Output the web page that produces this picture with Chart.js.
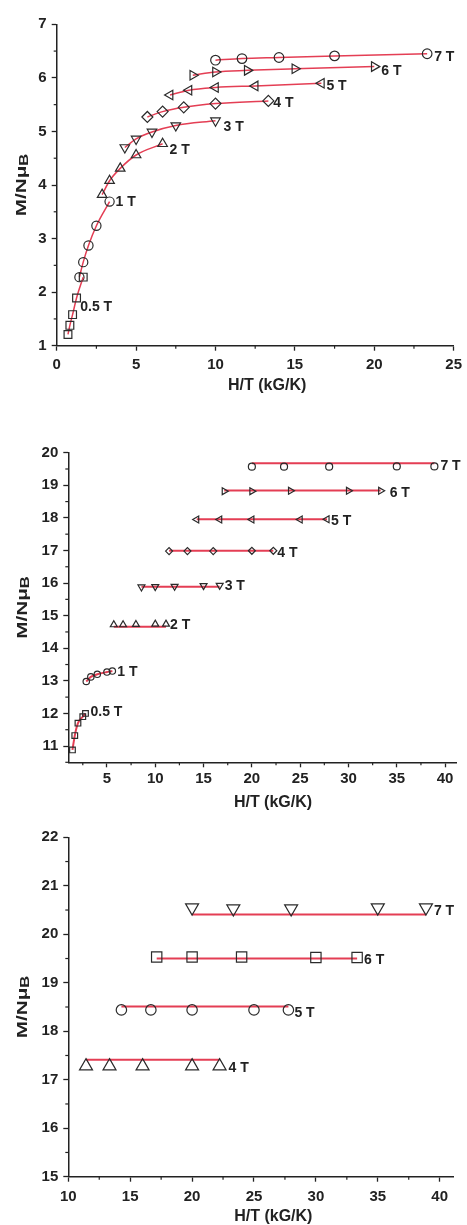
<!DOCTYPE html>
<html><head><meta charset="utf-8">
<script src="https://cdn.jsdelivr.net/npm/chart.js@4.4.0/dist/chart.umd.min.js"></script>
<style>
html,body{margin:0;padding:0;background:#fff;}
#wrap{position:relative;width:467px;height:1225px;overflow:hidden;}
canvas{position:absolute;left:0;}
</style></head><body>
<div id="wrap">
<canvas id="c1" width="467" height="400" style="top:0px"></canvas>
<canvas id="c2" width="467" height="420" style="top:400px"></canvas>
<canvas id="c3" width="467" height="405" style="top:820px"></canvas>
</div>
<script>
// ---------- DATA ----------
const fieldLabels = ['0.5 T', '1 T', '2 T', '3 T', '4 T', '5 T', '6 T', '7 T'];
const xTitle = 'H/T (kG/K)';
const yTitleMain = 'M/N\u03bc';
const yTitleSub = 'B';

// Top panel ticks
const topXTicks = [0, 5, 10, 15, 20, 25];
const topYTicks = [1, 2, 3, 4, 5, 6, 7];
// Top panel series (H/T, M/NμB)
const top_x_05 = [0.71, 0.83, 1.00, 1.25, 1.67];
const top_y_05 = [1.21, 1.38, 1.58, 1.89, 2.28];
const top_x_1 = [1.43, 1.67, 2.00, 2.50, 3.33];
const top_y_1 = [2.28, 2.56, 2.87, 3.24, 3.69];
const top_x_2 = [2.86, 3.33, 4.00, 5.00, 6.67];
const top_y_2 = [3.82, 4.08, 4.31, 4.56, 4.77];
const top_x_3 = [4.29, 5.00, 6.00, 7.50, 10.00];
const top_y_3 = [4.70, 4.86, 4.99, 5.11, 5.20];
const top_x_4 = [5.71, 6.67, 8.00, 10.00, 13.33];
const top_y_4 = [5.27, 5.37, 5.45, 5.52, 5.57];
const top_x_5 = [7.14, 8.33, 10.00, 12.50, 16.67];
const top_y_5 = [5.68, 5.77, 5.82, 5.85, 5.90];
const top_x_6 = [8.57, 10.00, 12.00, 15.00, 20.00];
const top_y_6 = [6.05, 6.11, 6.14, 6.17, 6.21];
const top_x_7 = [10.00, 11.67, 14.00, 17.50, 23.33];
const top_y_7 = [6.33, 6.36, 6.38, 6.41, 6.45];

// Middle panel ticks
const midXTicks = [5, 10, 15, 20, 25, 30, 35, 40];
const midYTicks = [11, 12, 13, 14, 15, 16, 17, 18, 19, 20];
// Middle panel series
const mid_x_05 = [1.43, 1.67, 2.00, 2.50, 2.78];
const mid_y_05 = [10.88, 11.32, 11.70, 11.90, 12.00];
const mid_fit_05 = [10.88, 11.32, 11.70, 11.90, 12.00];
const mid_x_1 = [2.86, 3.33, 4.00, 5.00, 5.56];
const mid_y_1 = [12.98, 13.12, 13.20, 13.27, 13.30];
const mid_fit_1 = [12.98, 13.12, 13.20, 13.27, 13.30];
const mid_x_2 = [5.71, 6.67, 8.00, 10.00, 11.11];
const mid_y_2 = [14.72, 14.72, 14.73, 14.74, 14.74];
const mid_fit_2 = [14.66, 14.66, 14.66, 14.66, 14.66];
const mid_x_3 = [8.57, 10.00, 12.00, 15.00, 16.67];
const mid_y_3 = [15.88, 15.89, 15.90, 15.92, 15.93];
const mid_fit_3 = [15.89, 15.89, 15.89, 15.89, 15.89];
const mid_x_4 = [11.43, 13.33, 16.00, 20.00, 22.22];
const mid_y_4 = [16.98, 16.98, 16.98, 16.99, 16.99];
const mid_fit_4 = [16.99, 16.99, 16.99, 16.99, 16.99];
const mid_x_5 = [14.29, 16.67, 20.00, 25.00, 27.78];
const mid_y_5 = [17.95, 17.95, 17.95, 17.95, 17.96];
const mid_fit_5 = [17.96, 17.96, 17.96, 17.96, 17.96];
const mid_x_6 = [17.14, 20.00, 24.00, 30.00, 33.33];
const mid_y_6 = [18.82, 18.82, 18.83, 18.83, 18.83];
const mid_fit_6 = [18.84, 18.84, 18.84, 18.84, 18.84];
const mid_x_7 = [20.00, 23.33, 28.00, 35.00, 38.89];
const mid_y_7 = [19.57, 19.57, 19.57, 19.58, 19.58];
const mid_fit_7 = [19.68, 19.68, 19.68, 19.68, 19.68];

// Bottom panel ticks
const botXTicks = [10, 15, 20, 25, 30, 35, 40];
const botYTicks = [15, 16, 17, 18, 19, 20, 21, 22];
// Bottom panel series
const bot_x_4 = [11.43, 13.33, 16.00, 20.00, 22.22];
const bot_y_4 = [17.28, 17.28, 17.28, 17.28, 17.28];
const bot_fit_4 = [17.41, 17.41, 17.41, 17.41, 17.41];
const bot_x_5 = [14.29, 16.67, 20.00, 25.00, 27.78];
const bot_y_5 = [18.44, 18.44, 18.44, 18.44, 18.44];
const bot_fit_5 = [18.51, 18.51, 18.51, 18.51, 18.51];
const bot_x_6 = [17.14, 20.00, 24.00, 30.00, 33.33];
const bot_y_6 = [19.53, 19.53, 19.53, 19.52, 19.52];
const bot_fit_6 = [19.50, 19.50, 19.50, 19.50, 19.50];
const bot_x_7 = [20.00, 23.33, 28.00, 35.00, 38.89];
const bot_y_7 = [20.55, 20.53, 20.53, 20.55, 20.55];
const bot_fit_7 = [20.41, 20.41, 20.41, 20.41, 20.41];

// ---------- STYLE / HELPERS ----------
const FONT = '"Liberation Sans", Arial, Helvetica, sans-serif';
const RED = 'rgb(228,62,84)';
const INK = '#222';
const MK = '#2b2b2b';

const pts = (xs, ys) => xs.map((x, i) => ({ x: x, y: ys[i] }));
const last = a => a[a.length - 1];

function markers(xs, ys, style, rot, r, withLine, lw) {
  return {
    data: pts(xs, ys), showLine: !!withLine, borderColor: RED, borderWidth: lw || 1.5,
    cubicInterpolationMode: 'monotone', fill: false,
    pointStyle: style, pointRotation: rot || 0, pointRadius: r, pointHoverRadius: r,
    pointBorderColor: MK, pointBackgroundColor: 'rgba(255,255,255,0)', pointBorderWidth: 1.2
  };
}
function fitLine(xs, ys, lw) {
  return {
    data: pts(xs, ys), showLine: true, borderColor: RED, borderWidth: lw,
    cubicInterpolationMode: 'monotone', fill: false, pointRadius: 0, pointHoverRadius: 0
  };
}

function scales(xmin, xmax, xt, ymin, ymax, yt, leftW, bottomH, padX) {
  const grid = { drawOnChartArea: false, drawTicks: true, tickLength: 5, tickColor: INK, tickWidth: 1.3 };
  const border = { display: true, color: INK, width: 1.5 };
  const tfont = { family: FONT, size: 15, weight: 'bold' };
  return {
    x: {
      type: 'linear', position: 'bottom', min: xmin, max: xmax, grid: grid, border: border,
      afterBuildTicks: s => { s.ticks = xt.map(v => ({ value: v })); },
      afterFit: s => { s.height = bottomH; },
      ticks: { font: tfont, color: INK, padding: padX, maxRotation: 0, autoSkip: false, callback: v => String(v) }
    },
    y: {
      type: 'linear', position: 'left', min: ymin, max: ymax, grid: grid, border: border,
      afterBuildTicks: s => { s.ticks = yt.map(v => ({ value: v })); },
      afterFit: s => { s.width = leftW; },
      ticks: { font: tfont, color: INK, padding: 5, autoSkip: false, callback: v => String(v) }
    }
  };
}

function minors(ticks, min, max) {
  const step = ticks[1] - ticks[0];
  const out = [];
  for (let v = ticks[0] - step / 2; v <= max + 1e-9; v += step) {
    if (v >= min - 1e-9) out.push(v);
  }
  return out;
}

const decor = {
  id: 'decor',
  afterDraw(chart, args, o) {
    const { ctx, chartArea: a } = chart;
    const x = chart.scales.x, y = chart.scales.y;
    ctx.save();
    // minor ticks
    ctx.strokeStyle = INK; ctx.lineWidth = 1.2;
    minors(o.xTicks, x.min, x.max).forEach(v => {
      const px = x.getPixelForValue(v);
      ctx.beginPath(); ctx.moveTo(px, a.bottom); ctx.lineTo(px, a.bottom + 3); ctx.stroke();
    });
    minors(o.yTicks, y.min, y.max).forEach(v => {
      const py = y.getPixelForValue(v);
      ctx.beginPath(); ctx.moveTo(a.left, py); ctx.lineTo(a.left - 3, py); ctx.stroke();
    });
    // x title
    ctx.fillStyle = INK;
    ctx.font = 'bold 16px ' + FONT;
    ctx.textAlign = 'center'; ctx.textBaseline = 'middle';
    ctx.fillText(xTitle, (a.left + a.right) / 2 + o.xTitleDx, a.bottom + o.xTitleDy);
    // y title (rotated, with subscript)
    ctx.save();
    ctx.translate(o.yTitleBase, (a.top + a.bottom) / 2);
    ctx.rotate(-Math.PI / 2);
    ctx.scale(1.38, 1);
    ctx.textAlign = 'left'; ctx.textBaseline = 'alphabetic';
    ctx.font = 'bold 15px ' + FONT;
    const wm = ctx.measureText(yTitleMain).width;
    ctx.font = 'bold 12px ' + FONT;
    const ws = ctx.measureText(yTitleSub).width;
    const x0 = -(wm + ws) / 2;
    ctx.font = 'bold 15px ' + FONT;
    ctx.fillText(yTitleMain, x0, 0);
    ctx.font = 'bold 12px ' + FONT;
    ctx.fillText(yTitleSub, x0 + wm, 2);
    ctx.restore();
    // field labels
    ctx.font = 'bold 14px ' + FONT;
    ctx.textAlign = 'left'; ctx.textBaseline = 'middle';
    o.labels.forEach(it => {
      ctx.fillText(it.text, x.getPixelForValue(it.x) + it.dx, y.getPixelForValue(it.y) + it.dy);
    });
    ctx.restore();
  }
};

function makeChart(id, datasets, sc, pad, decorOpts) {
  return new Chart(document.getElementById(id), {
    type: 'scatter',
    data: { datasets: datasets },
    options: {
      responsive: false, maintainAspectRatio: false, animation: false,
      layout: { padding: pad },
      scales: sc,
      plugins: { legend: { display: false }, tooltip: { enabled: false }, decor: decorOpts },
      events: []
    },
    plugins: [decor]
  });
}

// ---------- TOP PANEL ----------
makeChart('c1', [
  markers(top_x_05, top_y_05, 'rect', 0, 5.5, true, 1.5),
  markers(top_x_1, top_y_1, 'circle', 0, 4.6, true, 1.5),
  markers(top_x_2, top_y_2, 'triangle', 0, 5.5, true, 1.5),
  markers(top_x_3, top_y_3, 'triangle', 180, 5.5, true, 1.5),
  markers(top_x_4, top_y_4, 'rectRot', 0, 5.5, true, 1.5),
  markers(top_x_5, top_y_5, 'triangle', 270, 5.5, true, 1.5),
  markers(top_x_6, top_y_6, 'triangle', 90, 5.5, true, 1.5),
  markers(top_x_7, top_y_7, 'circle', 0, 4.8, true, 1.5)
], scales(0, 25, topXTicks, 1, 7, topYTicks, 56.7, 54.3, 5),
  { top: 24.3, right: 11, left: 0, bottom: 0 },
  {
    xTicks: topXTicks, yTicks: topYTicks, xTitleDx: 12, xTitleDy: 39.5, yTitleBase: 25.5,
    labels: [
      { text: fieldLabels[0], x: last(top_x_05), y: last(top_y_05), dx: -3, dy: 30 },
      { text: fieldLabels[1], x: last(top_x_1), y: last(top_y_1), dx: 6, dy: 1 },
      { text: fieldLabels[2], x: last(top_x_2), y: last(top_y_2), dx: 7, dy: 6 },
      { text: fieldLabels[3], x: last(top_x_3), y: last(top_y_3), dx: 8, dy: 6 },
      { text: fieldLabels[4], x: last(top_x_4), y: last(top_y_4), dx: 5, dy: 2 },
      { text: fieldLabels[5], x: last(top_x_5), y: last(top_y_5), dx: 5, dy: 3 },
      { text: fieldLabels[6], x: last(top_x_6), y: last(top_y_6), dx: 7, dy: 5 },
      { text: fieldLabels[7], x: last(top_x_7), y: last(top_y_7), dx: 7, dy: 3 }
    ]
  });

// ---------- MIDDLE PANEL ----------
makeChart('c2', [
  markers(mid_x_05, mid_y_05, 'rect', 0, 4, false),
  markers(mid_x_1, mid_y_1, 'circle', 0, 3.2, false),
  markers(mid_x_2, mid_y_2, 'triangle', 0, 4, false),
  markers(mid_x_3, mid_y_3, 'triangle', 180, 4, false),
  markers(mid_x_4, mid_y_4, 'rectRot', 0, 3.5, false),
  markers(mid_x_5, mid_y_5, 'triangle', 270, 4, false),
  markers(mid_x_6, mid_y_6, 'triangle', 90, 4, false),
  markers(mid_x_7, mid_y_7, 'circle', 0, 3.5, false),
  fitLine(mid_x_05, mid_fit_05, 2),
  fitLine(mid_x_1, mid_fit_1, 2),
  fitLine(mid_x_2, mid_fit_2, 2),
  fitLine(mid_x_3, mid_fit_3, 2),
  fitLine(mid_x_4, mid_fit_4, 2),
  fitLine(mid_x_5, mid_fit_5, 2),
  fitLine(mid_x_6, mid_fit_6, 2),
  fitLine(mid_x_7, mid_fit_7, 2)
], scales(1, 41.2, midXTicks, 10.5, 20, midYTicks, 68.3, 57.7, 3),
  { top: 52.7, right: 10.3, left: 0, bottom: 0 },
  {
    xTicks: midXTicks, yTicks: midYTicks, xTitleDx: 10.5, xTitleDy: 40, yTitleBase: 26.5,
    labels: [
      { text: fieldLabels[0], x: last(mid_x_05), y: last(mid_y_05), dx: 5, dy: -1 },
      { text: fieldLabels[1], x: last(mid_x_1), y: last(mid_y_1), dx: 5, dy: 1 },
      { text: fieldLabels[2], x: last(mid_x_2), y: last(mid_y_2), dx: 4, dy: 1 },
      { text: fieldLabels[3], x: last(mid_x_3), y: last(mid_y_3), dx: 5, dy: 1 },
      { text: fieldLabels[4], x: last(mid_x_4), y: last(mid_y_4), dx: 4, dy: 2 },
      { text: fieldLabels[5], x: last(mid_x_5), y: last(mid_y_5), dx: 4, dy: 2 },
      { text: fieldLabels[6], x: last(mid_x_6), y: last(mid_y_6), dx: 9, dy: 2 },
      { text: fieldLabels[7], x: last(mid_x_7), y: last(mid_y_7), dx: 6, dy: 0 }
    ]
  });

// ---------- BOTTOM PANEL ----------
makeChart('c3', [
  markers(bot_x_4, bot_y_4, 'triangle', 0, 7.5, false),
  markers(bot_x_5, bot_y_5, 'circle', 0, 5.2, false),
  markers(bot_x_6, bot_y_6, 'rect', 0, 7.3, false),
  markers(bot_x_7, bot_y_7, 'triangle', 180, 7.5, false),
  fitLine(bot_x_4, bot_fit_4, 2),
  fitLine(bot_x_5, bot_fit_5, 2),
  fitLine(bot_x_6, bot_fit_6, 2),
  fitLine(bot_x_7, bot_fit_7, 2)
], scales(10, 41.1, botXTicks, 15, 22, botYTicks, 68.3, 48.3, 6),
  { top: 17.3, right: 13.7, left: 0, bottom: 0 },
  {
    xTicks: botXTicks, yTicks: botYTicks, xTitleDx: 12.5, xTitleDy: 40, yTitleBase: 26.5,
    labels: [
      { text: fieldLabels[4], x: last(bot_x_4), y: last(bot_y_4), dx: 9, dy: 2 },
      { text: fieldLabels[5], x: last(bot_x_5), y: last(bot_y_5), dx: 6, dy: 3 },
      { text: fieldLabels[6], x: last(bot_x_6), y: last(bot_y_6), dx: 7, dy: 3 },
      { text: fieldLabels[7], x: last(bot_x_7), y: last(bot_y_7), dx: 8, dy: 4 }
    ]
  });
</script>
</body></html>
